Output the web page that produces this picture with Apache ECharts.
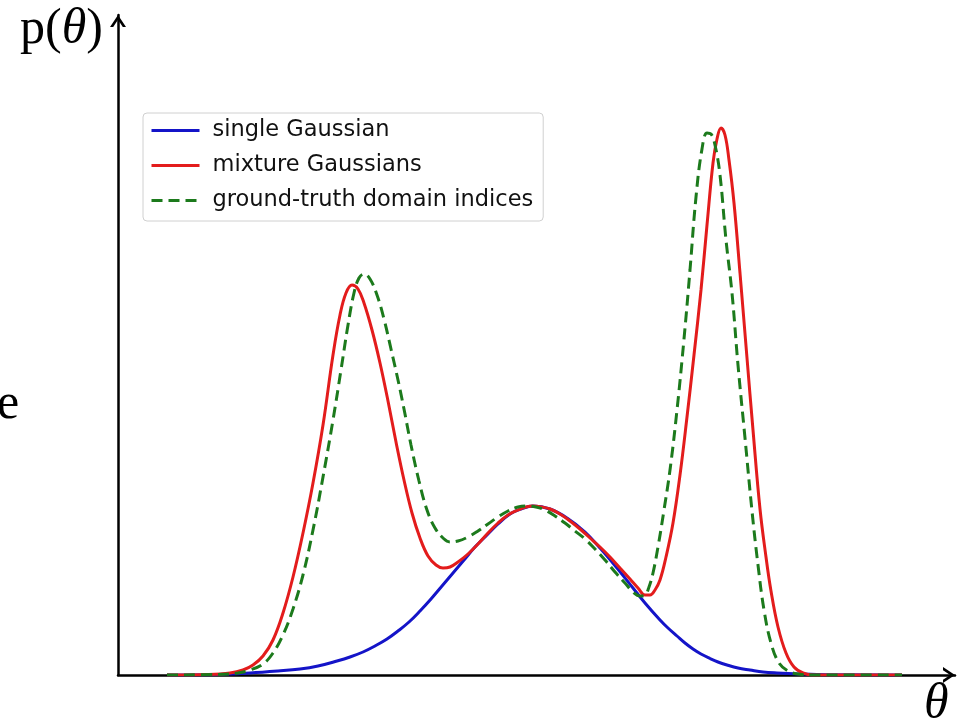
<!DOCTYPE html>
<html>
<head>
<meta charset="utf-8">
<script src="https://cdn.jsdelivr.net/npm/echarts@6/dist/echarts.min.js"></script>
<style>
  html, body { margin: 0; padding: 0; background: #fff; }
  #main { width: 968px; height: 722px; }
</style>
</head>
<body>
<div id="main"></div>
<script>
// [theta, density] pairs
const singleGaussian = [
  [0.49, 0], [1.0, 0.005], [1.32, 0.02], [1.6, 0.04], [1.82, 0.06], [2.0, 0.09],
  [2.19, 0.14], [2.32, 0.18], [2.45, 0.23], [2.57, 0.29], [2.69, 0.36], [2.80, 0.44],
  [2.91, 0.53], [3.02, 0.64], [3.13, 0.76], [3.24, 0.89], [3.35, 1.02], [3.46, 1.15],
  [3.57, 1.28], [3.68, 1.39], [3.80, 1.51], [3.92, 1.61], [4.03, 1.66], [4.15, 1.69],
  [4.32, 1.66], [4.49, 1.57], [4.67, 1.43], [4.82, 1.27], [4.99, 1.07], [5.15, 0.87],
  [5.27, 0.72], [5.42, 0.55], [5.50, 0.47], [5.59, 0.39], [5.67, 0.32], [5.75, 0.26],
  [5.83, 0.21], [5.92, 0.165], [6.00, 0.13], [6.09, 0.10], [6.20, 0.07], [6.32, 0.05],
  [6.45, 0.03], [6.59, 0.02], [6.82, 0.01], [7.1, 0.003], [7.84, 0]
];

const mixtureGaussians = [
  [0.49, 0], [0.9, 0.005], [1.12, 0.02], [1.25, 0.05], [1.35, 0.10], [1.45, 0.19],
  [1.55, 0.35], [1.65, 0.62], [1.75, 0.98], [1.85, 1.42], [1.95, 1.92], [2.05, 2.50],
  [2.15, 3.20], [2.22, 3.60], [2.28, 3.82], [2.34, 3.90], [2.40, 3.86], [2.46, 3.72],
  [2.54, 3.45], [2.62, 3.12], [2.70, 2.74], [2.78, 2.33], [2.86, 1.95], [2.94, 1.62],
  [3.02, 1.37], [3.10, 1.19], [3.18, 1.10], [3.25, 1.07], [3.32, 1.08], [3.40, 1.13],
  [3.50, 1.21], [3.60, 1.31], [3.70, 1.42], [3.80, 1.52], [3.90, 1.60], [4.00, 1.65],
  [4.08, 1.68], [4.15, 1.69], [4.24, 1.68], [4.32, 1.66], [4.42, 1.61], [4.52, 1.54],
  [4.62, 1.46], [4.72, 1.37], [4.82, 1.28], [4.92, 1.18], [5.02, 1.07], [5.12, 0.96],
  [5.20, 0.87], [5.27, 0.80], [5.32, 0.80], [5.37, 0.85], [5.42, 0.95], [5.48, 1.18],
  [5.55, 1.52], [5.62, 2.00], [5.69, 2.58], [5.76, 3.20], [5.83, 3.85], [5.89, 4.50],
  [5.95, 5.12], [5.99, 5.36], [6.03, 5.47], [6.07, 5.40], [6.11, 5.15], [6.16, 4.72],
  [6.22, 4.02], [6.29, 3.17], [6.35, 2.45], [6.42, 1.66], [6.48, 1.18], [6.53, 0.84],
  [6.60, 0.48], [6.68, 0.22], [6.76, 0.08], [6.85, 0.02], [6.95, 0], [7.84, 0]
];

const groundTruth = [
  [0.49, 0], [1.0, 0.005], [1.2, 0.02], [1.32, 0.05], [1.45, 0.11], [1.55, 0.22],
  [1.65, 0.40], [1.75, 0.66], [1.85, 1.00], [1.95, 1.45], [2.05, 1.98], [2.15, 2.55],
  [2.23, 3.05], [2.30, 3.50], [2.36, 3.82], [2.41, 3.97], [2.46, 4.01], [2.52, 3.96],
  [2.59, 3.80], [2.66, 3.56], [2.73, 3.26], [2.80, 2.95], [2.86, 2.66], [2.93, 2.30],
  [3.01, 1.94], [3.09, 1.65], [3.17, 1.47], [3.25, 1.37], [3.32, 1.33], [3.40, 1.34],
  [3.50, 1.38], [3.60, 1.44], [3.70, 1.51], [3.80, 1.58], [3.90, 1.64], [4.00, 1.68],
  [4.10, 1.69], [4.18, 1.68], [4.27, 1.65], [4.37, 1.59], [4.47, 1.52], [4.57, 1.44],
  [4.67, 1.36], [4.77, 1.26], [4.87, 1.15], [4.97, 1.03], [5.07, 0.92], [5.15, 0.83],
  [5.22, 0.79], [5.27, 0.80], [5.31, 0.88], [5.35, 1.02], [5.40, 1.28], [5.46, 1.65],
  [5.52, 2.05], [5.59, 2.65], [5.66, 3.36], [5.72, 4.05], [5.78, 4.78], [5.84, 5.26],
  [5.89, 5.42], [5.93, 5.41], [5.97, 5.30], [6.02, 5.00], [6.08, 4.35], [6.14, 3.82],
  [6.20, 3.10], [6.27, 2.37], [6.34, 1.64], [6.40, 1.10], [6.46, 0.65], [6.53, 0.32],
  [6.61, 0.12], [6.70, 0.04], [6.80, 0.01], [6.95, 0], [7.84, 0]
];

const seriesNames = ["single Gaussian", "mixture Gaussians", "ground-truth domain indices"];

// open chevron arrow head for the axes
const arrowPath = "path://M0,12 L8,0 L16,12 L12.8,12 L8,4.8 L3.2,12 Z";

var myChart = echarts.init(document.getElementById("main"));

var axisCommon = {
  type: "value",
  splitLine: { show: false },
  axisTick: { show: false },
  axisLabel: { show: false },
  axisLine: {
    show: true,
    symbol: ["none", arrowPath],
    symbolSize: [18, 12],
    symbolOffset: [0, -6],
    lineStyle: { color: "#000", width: 2.5 },
  },
};

var option = {
  animation: false,
  backgroundColor: "#fff",
  grid: { left: 118, right: 13, top: 15, bottom: 47 },
  xAxis: Object.assign({}, axisCommon, { min: 0, max: 8.37 }),
  yAxis: Object.assign({}, axisCommon, { min: 0, max: 6.6 }),
  legend: {
    orient: "vertical",
    left: 143,
    top: 113,
    padding: [6, 10, 9, 7],
    itemWidth: 48,
    itemHeight: 24,
    itemGap: 12,
    backgroundColor: "#fff",
    borderColor: "#d0d0d0",
    borderWidth: 1,
    borderRadius: 4,
    itemStyle: { opacity: 0 },
    lineStyle: { width: 3 },
    textStyle: { fontFamily: "DejaVu Sans", fontSize: 22.5, color: "#111", padding: [0, 0, 0, 8] },
    data: seriesNames,
  },
  series: [
    {
      name: seriesNames[0],
      type: "line",
      data: singleGaussian,
      smooth: 0.4,
      symbol: "none",
      lineStyle: { color: "#1414c8", width: 3 },
      itemStyle: { color: "#1414c8" },
      z: 2,
    },
    {
      name: seriesNames[1],
      type: "line",
      data: mixtureGaussians,
      smooth: 0.4,
      symbol: "none",
      lineStyle: { color: "#e31c1c", width: 3 },
      itemStyle: { color: "#e31c1c" },
      z: 3,
    },
    {
      name: seriesNames[2],
      type: "line",
      data: groundTruth,
      smooth: 0.4,
      symbol: "none",
      lineStyle: { color: "#1c7a1c", width: 3, type: [11, 6] },
      itemStyle: { color: "#1c7a1c" },
      z: 4,
    },
  ],
  graphic: [
    {
      type: "text",
      left: 20,
      top: 5,
      style: {
        text: "{n|p(}{i|θ}{n|)}",
        rich: {
          n: { fontFamily: "Liberation Serif", fontSize: 50, fill: "#000" },
          i: { fontFamily: "Liberation Serif", fontStyle: "italic", fontSize: 50, fill: "#000" },
        },
      },
    },
    {
      type: "text",
      left: -3,
      top: 380,
      style: { text: "e", fontFamily: "Liberation Serif", fontSize: 50, fill: "#000" },
    },
    {
      type: "text",
      left: 924,
      top: 680,
      style: { text: "θ", fontFamily: "Liberation Serif", fontStyle: "italic", fontSize: 50, fill: "#000" },
    },
  ],
};

myChart.setOption(option);
</script>
</body>
</html>
